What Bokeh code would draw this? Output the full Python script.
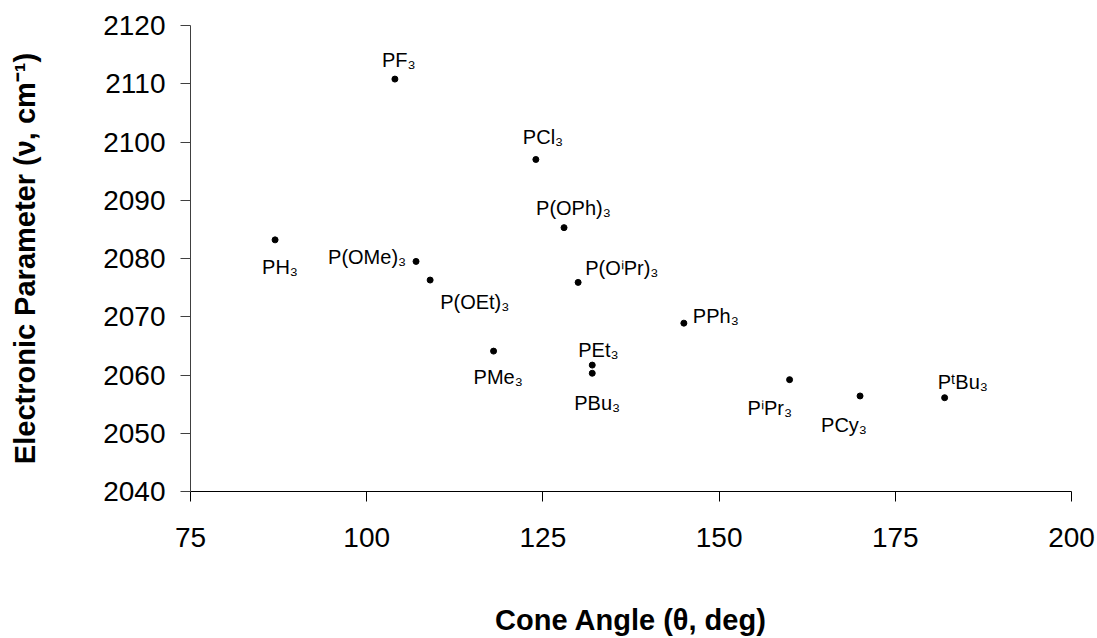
from bokeh.plotting import figure
from bokeh.models import Range1d, ColumnDataSource, FixedTicker
from bokeh.core.properties import value
from bokeh.embed import file_html
from bokeh.resources import INLINE

# Data: Tolman cone angle vs electronic parameter
ligands = ["PH₃", "PF₃", "PCl₃", "P(OPh)₃", "P(OMe)₃", "P(OEt)₃", "P(OⁱPr)₃",
           "PPh₃", "PEt₃", "PBu₃", "PMe₃", "PⁱPr₃", "PCy₃", "PᵗBu₃"]
cone_angle = [87, 104, 124, 128, 107, 109, 130, 145, 132, 132, 118, 160, 170, 182]
nu_co = [2083.2, 2110.8, 2097.0, 2085.3, 2079.5, 2076.3, 2075.9, 2068.9,
         2061.7, 2060.3, 2064.1, 2059.2, 2056.4, 2056.1]
x_ticks = [75, 100, 125, 150, 175, 200]
y_ticks = [2040, 2050, 2060, 2070, 2080, 2090, 2100, 2110, 2120]

# label placement (screen pixels relative to point: left edge, baseline; +dy = down)
label_dx = [-13, -13, -13, -28, -88, 10, 7, 9, -14, -18, -20, -42, -39, -7]
label_dy = [27, -19, -22, -20, -4, 22, -14, -7, -15, 30, 26, 28, 29, -16]

FONT = "Liberation Sans"

p = figure(width=1097, height=638, x_range=Range1d(75, 200), y_range=Range1d(2040, 2120),
           output_backend="svg", toolbar_location=None,
           min_border_left=190, min_border_right=26, min_border_top=25, min_border_bottom=146)
p.outline_line_color = None
p.grid.visible = False
p.background_fill_color = "white"
p.border_fill_color = "white"

src = ColumnDataSource(dict(x=cone_angle, y=nu_co, name=ligands,
                            dx=label_dx, dy=label_dy))
p.scatter("x", "y", source=src, size=6, color="black")
p.text("x", "y", text="name", source=src, x_offset="dx", y_offset="dy",
       text_font=value(FONT), text_font_size="20px", text_color="black",
       text_align="left", text_baseline="alphabetic")

xa = p.xaxis[0]
xa.ticker = FixedTicker(ticks=x_ticks)
xa.axis_label = "Cone Angle (θ, deg)"
xa.axis_line_color = "black"
xa.major_tick_line_color = "black"
xa.major_tick_out = 10
xa.major_tick_in = 0
xa.minor_tick_line_color = None
xa.major_label_text_font = FONT
xa.major_label_text_font_size = "28px"
xa.major_label_text_color = "black"
xa.major_label_standoff = 26
xa.axis_label_text_font = FONT
xa.axis_label_text_font_size = "29px"
xa.axis_label_text_font_style = "bold"
xa.axis_label_text_color = "black"
xa.axis_label_standoff = 54

ya = p.yaxis[0]
ya.ticker = FixedTicker(ticks=y_ticks)
ya.axis_label = "Electronic Parameter (ν, cm⁻¹)"
ya.axis_line_color = "#404040"
ya.major_tick_line_color = "#404040"
ya.major_tick_out = 10
ya.major_tick_in = 0
ya.minor_tick_line_color = None
ya.major_label_text_font = FONT
ya.major_label_text_font_size = "28px"
ya.major_label_text_color = "black"
ya.major_label_standoff = 15
ya.axis_label_text_font = FONT
ya.axis_label_text_font_size = "29px"
ya.axis_label_text_font_style = "bold"
ya.axis_label_text_color = "black"
ya.axis_label_standoff = 59

open("out.html", "w").write(file_html(p, INLINE))
